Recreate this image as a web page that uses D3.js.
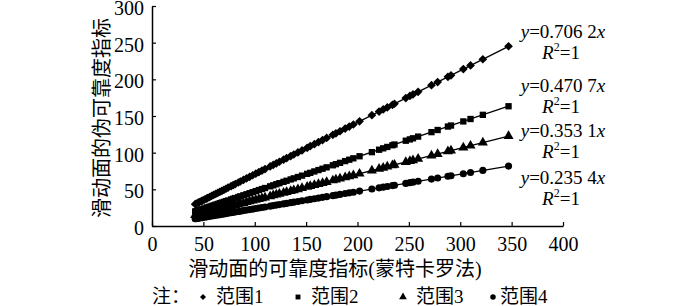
<!DOCTYPE html>
<html><head><meta charset="utf-8">
<script src="https://cdn.jsdelivr.net/npm/d3@7"></script>
<style>body{margin:0;background:#fff} svg{display:block}</style>
</head><body><svg id="c" width="700" height="306"></svg>
<script>
// ---- data ----
const xValues = [42,43,45,46,48,49,51,53,54,56,58,60,62,64,66,68,70,72,74,77,79,81,84,86,89,92,95,98,101,104,107,110,115,118,121,124,128,131,135,138,142,146,151,154,158,162,166,170,176,179,183,188,192,196,202,214,221,225,229,234,236,247,251,254,259,272,278,288,291,303,310,322,347];
const series1 = [29.7,30.4,31.8,32.5,33.9,34.6,36.0,37.4,38.1,39.5,41.0,42.4,43.8,45.2,46.6,48.0,49.4,50.8,52.3,54.4,55.8,57.2,59.3,60.7,62.9,65.0,67.1,69.2,71.3,73.4,75.6,77.7,81.2,83.3,85.5,87.6,90.4,92.5,95.3,97.5,100.3,103.1,106.6,108.8,111.6,114.4,117.2,120.1,124.3,126.4,129.2,132.8,135.6,138.4,142.7,151.1,156.1,158.9,161.7,165.3,166.7,174.4,177.3,179.4,182.9,192.1,196.3,203.4,205.5,214.0,218.9,227.4,245.1];
const series2 = [19.8,20.2,21.2,21.7,22.6,23.1,24.0,24.9,25.4,26.4,27.3,28.2,29.2,30.1,31.1,32.0,32.9,33.9,34.8,36.2,37.2,38.1,39.5,40.5,41.9,43.3,44.7,46.1,47.5,49.0,50.4,51.8,54.1,55.5,57.0,58.4,60.2,61.7,63.5,65.0,66.8,68.7,71.1,72.5,74.4,76.3,78.1,80.0,82.8,84.3,86.1,88.5,90.4,92.3,95.1,100.7,104.0,105.9,107.8,110.1,111.1,116.3,118.1,119.6,121.9,128.0,130.9,135.6,137.0,142.6,145.9,151.6,163.3];
const series3 = [14.8,15.2,15.9,16.2,16.9,17.3,18.0,18.7,19.1,19.8,20.5,21.2,21.9,22.6,23.3,24.0,24.7,25.4,26.1,27.2,27.9,28.6,29.7,30.4,31.4,32.5,33.5,34.6,35.7,36.7,37.8,38.8,40.6,41.7,42.7,43.8,45.2,46.3,47.7,48.7,50.1,51.6,53.3,54.4,55.8,57.2,58.6,60.0,62.1,63.2,64.6,66.4,67.8,69.2,71.3,75.6,78.0,79.4,80.9,82.6,83.3,87.2,88.6,89.7,91.5,96.0,98.2,101.7,102.8,107.0,109.5,113.7,122.5];
const series4 = [9.9,10.1,10.6,10.8,11.3,11.5,12.0,12.5,12.7,13.2,13.7,14.1,14.6,15.1,15.5,16.0,16.5,16.9,17.4,18.1,18.6,19.1,19.8,20.2,21.0,21.7,22.4,23.1,23.8,24.5,25.2,25.9,27.1,27.8,28.5,29.2,30.1,30.8,31.8,32.5,33.4,34.4,35.5,36.3,37.2,38.1,39.1,40.0,41.4,42.1,43.1,44.3,45.2,46.1,47.6,50.4,52.0,53.0,53.9,55.1,55.6,58.1,59.1,59.8,61.0,64.0,65.4,67.8,68.5,71.3,73.0,75.8,81.7];
const slopes = [0.7062, 0.4707, 0.3531, 0.2354];
const slopeLabels = ["0.706 2", "0.470 7", "0.353 1", "0.235 4"];
const seriesNames = ["范围1", "范围2", "范围3", "范围4"];
const xTicks = [0, 50, 100, 150, 200, 250, 300, 350, 400];
const yTicks = [0, 50, 100, 150, 200, 250, 300];
const xTitle = "滑动面的可靠度指标(蒙特卡罗法)";
const yTitle = "滑动面的伪可靠度指标";
const noteLabel = "注：";

// ---- drawing ----
const FONT = "'Liberation Serif','Noto Sans CJK SC',serif";
const svg = d3.select("#c").attr("font-family", FONT);
const x = d3.scaleLinear().domain([0, 400]).range([152, 563]);
const y = d3.scaleLinear().domain([0, 300]).range([226, 6]);
const allSeries = [series1, series2, series3, series4];

const symbols = [
  d3.symbol().type(d3.symbolSquare).size(38),   // rotated -> diamond
  d3.symbol().type(d3.symbolSquare).size(40),
  d3.symbol().type(d3.symbolTriangle).size(44),
  d3.symbol().type(d3.symbolCircle).size(40)
];
const rot = [45, 0, 0, 0];

// axes
const xAxis = svg.append("g").attr("transform", `translate(0,${y(0)})`)
  .call(d3.axisBottom(x).tickValues(xTicks).tickSizeInner(-4).tickSizeOuter(0).tickPadding(11));
const yAxis = svg.append("g").attr("transform", `translate(${x(0)},0)`)
  .call(d3.axisLeft(y).tickValues(yTicks).tickSizeInner(-4).tickSizeOuter(0).tickPadding(8));
[xAxis, yAxis].forEach(g => {
  g.select(".domain").attr("stroke", "#000").attr("stroke-width", 1.5);
  g.selectAll(".tick line").attr("stroke", "#000").attr("stroke-width", 1.2);
  g.selectAll(".tick text").attr("font-size", 20).attr("font-family", FONT).attr("fill", "#000");
});
yAxis.selectAll(".tick text").attr("dy", "0.42em");
xAxis.selectAll(".tick text").attr("dy", "0.71em");

// trend lines and points
const xr = d3.extent(xValues);
allSeries.forEach((s, i) => {
  svg.append("line")
    .attr("x1", x(xr[0])).attr("y1", y(slopes[i] * xr[0]))
    .attr("x2", x(xr[1])).attr("y2", y(slopes[i] * xr[1]))
    .attr("stroke", "#000").attr("stroke-width", 1.3);
  svg.append("g").selectAll("path").data(s).join("path")
    .attr("d", symbols[i])
    .attr("transform", (d, j) => `translate(${x(xValues[j])},${y(d)}) rotate(${rot[i]})`)
    .attr("fill", "#000");
});

// equation annotations
const eqY = [38, 92, 137, 184];
slopeLabels.forEach((lab, i) => {
  const t = svg.append("text").attr("x", 563).attr("y", eqY[i])
    .attr("text-anchor", "middle").attr("font-size", 19);
  t.append("tspan").attr("font-style", "italic").text("y");
  t.append("tspan").text("=" + lab);
  t.append("tspan").attr("font-style", "italic").text("x");
  const r = svg.append("text").attr("x", 561).attr("y", eqY[i] + 21)
    .attr("text-anchor", "middle").attr("font-size", 19);
  r.append("tspan").attr("font-style", "italic").text("R");
  r.append("tspan").attr("font-size", 12).attr("dy", -8).text("2");
  r.append("tspan").attr("dy", 8).text("=1");
});

// axis titles
svg.append("text").attr("x", 335).attr("y", 276).attr("text-anchor", "middle")
  .attr("font-size", 20).text(xTitle);
svg.append("text").attr("transform", "translate(109,118) rotate(-90)")
  .attr("text-anchor", "middle").attr("font-size", 20).text(yTitle);

// legend
svg.append("text").attr("x", 152).attr("y", 303).attr("font-size", 19).text(noteLabel);
const legX = [203, 298, 403, 493];
const legSym = [
  d3.symbol().type(d3.symbolSquare).size(18),
  d3.symbol().type(d3.symbolSquare).size(24),
  d3.symbol().type(d3.symbolTriangle).size(26),
  d3.symbol().type(d3.symbolCircle).size(24)
];
seriesNames.forEach((n, i) => {
  svg.append("path").attr("d", legSym[i])
    .attr("transform", `translate(${legX[i]},297) rotate(${rot[i]})`).attr("fill", "#000");
  svg.append("text").attr("x", legX[i] + (i === 3 ? 7 : 13)).attr("y", 303)
    .attr("font-size", 19).text(n);
});
</script>
</body></html>
